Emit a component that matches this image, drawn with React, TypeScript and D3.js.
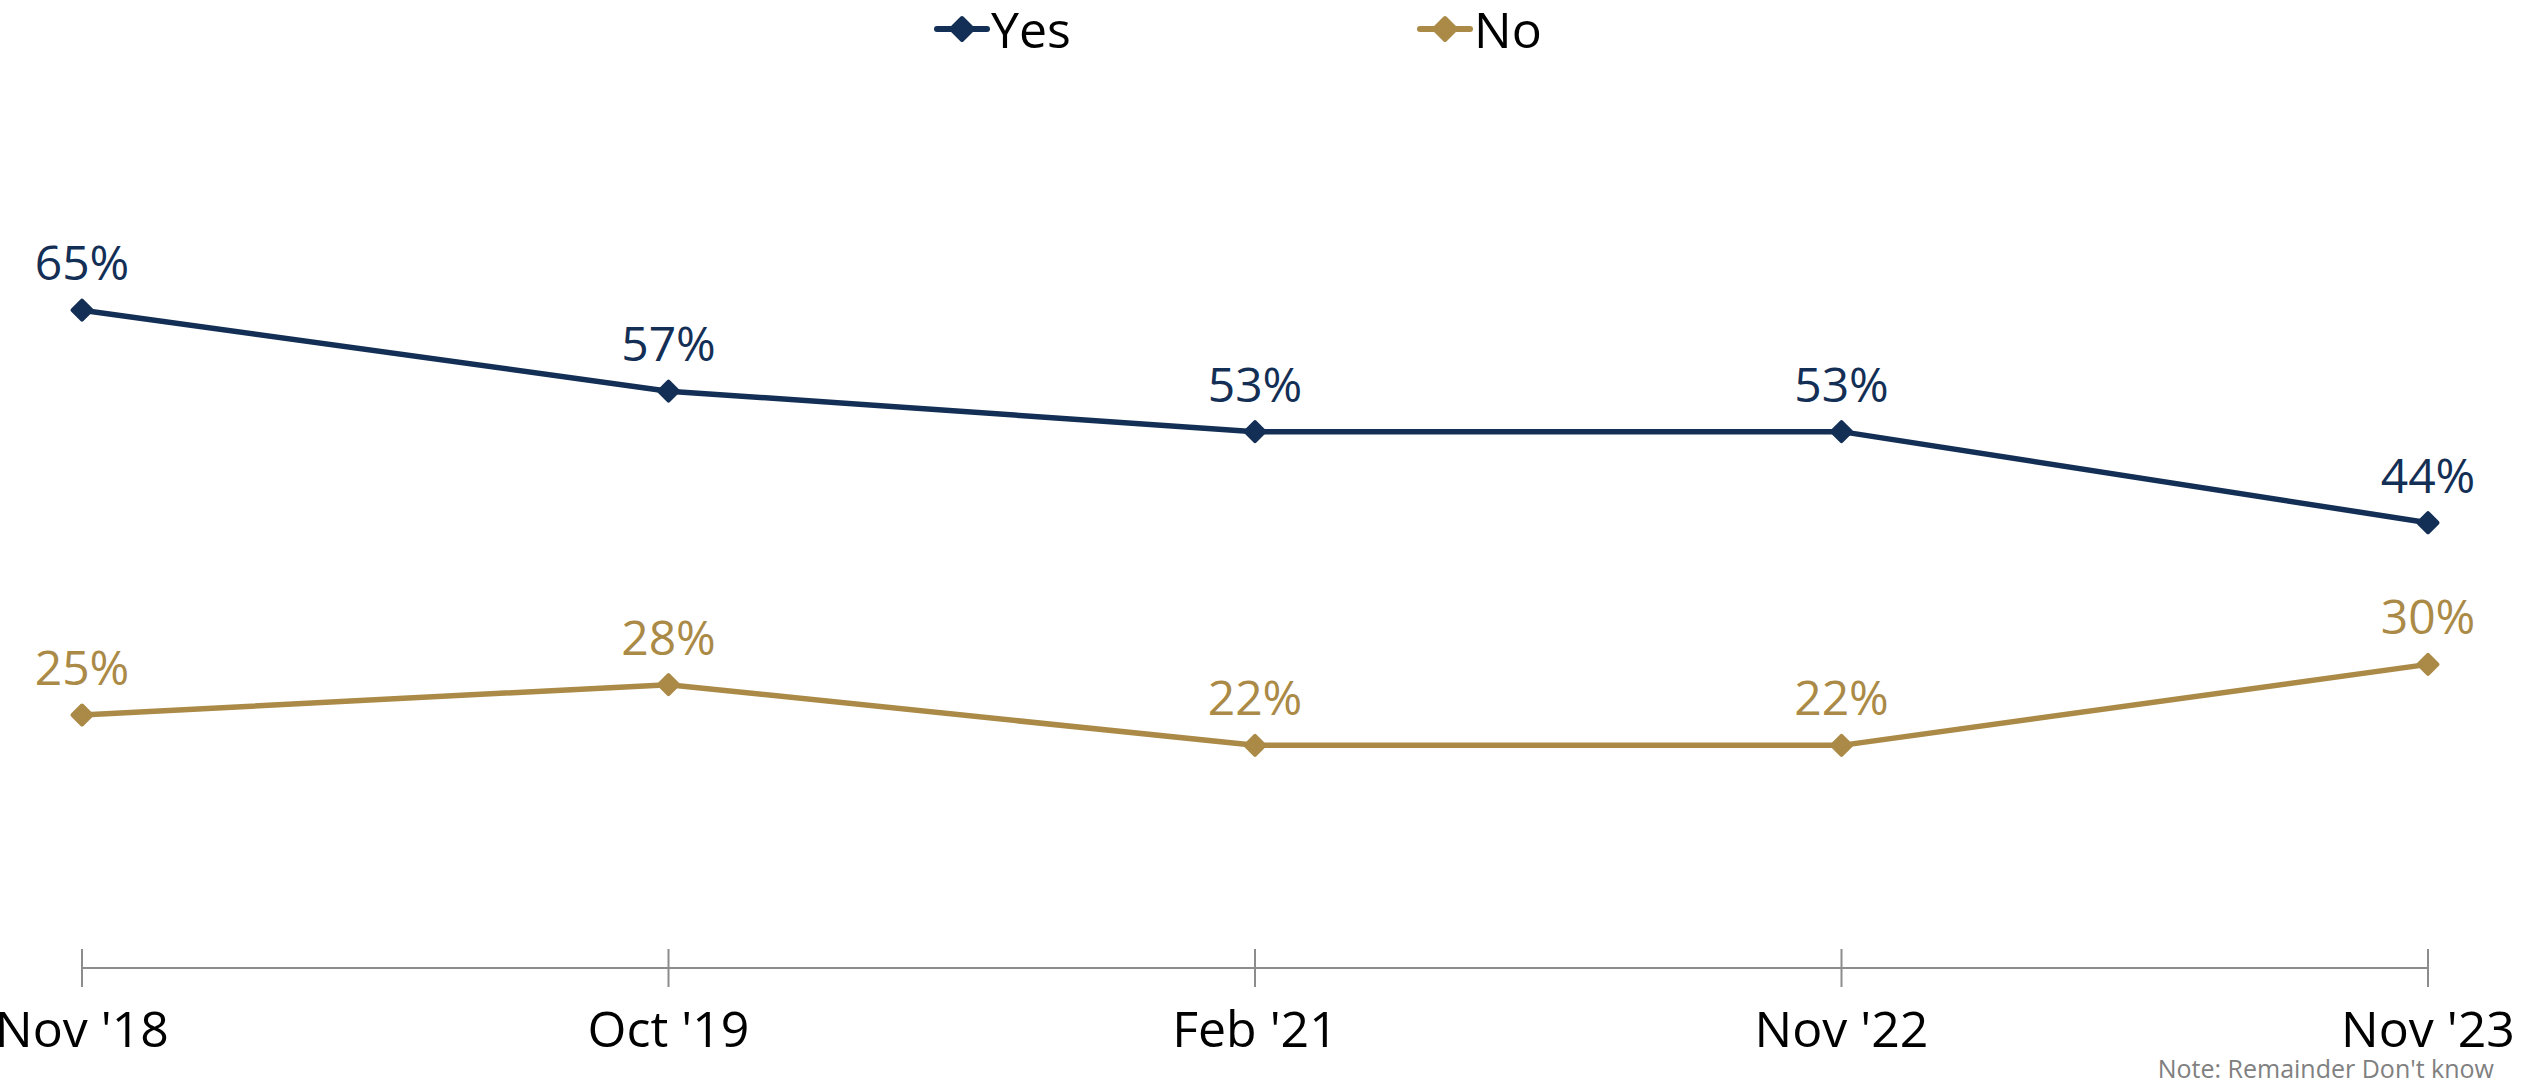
import React from 'react';
import * as d3 from 'd3';

const periods = ["Nov '18", "Oct '19", "Feb '21", "Nov '22", "Nov '23"];
const yesValues = [65, 57, 53, 53, 44];
const noValues = [25, 28, 22, 22, 30];

const seriesNames = ['Yes', 'No'];
const seriesColors = ['#142f55', '#aa8a46'];

const W = 2524;
const H = 1085;
const FONT = '"Open Sans", "Noto Sans", sans-serif';

const App: React.FC = () => {
  const x = d3.scalePoint<string>().domain(periods).range([82, 2428]);
  const y = d3.scaleLinear().domain([0, 100]).range([968, -44]);

  const line = d3
    .line<number>()
    .x((_, i) => x(periods[i]) as number)
    .y(d => y(d));

  const diamond = (cx: number, cy: number, r: number) =>
    `M${cx},${cy - r}L${cx + r},${cy}L${cx},${cy + r}L${cx - r},${cy}Z`;

  const allSeries = [yesValues, noValues];
  const legendX = [937, 1420];

  return (
    <svg
      width={W}
      height={H}
      style={{ display: 'block', position: 'absolute', left: 0, top: 0, background: '#fff' }}
    >
      {/* legend */}
      {seriesNames.map((name, i) => {
        const lx = legendX[i];
        const ly = 29;
        return (
          <g key={name}>
            <line x1={lx} x2={lx + 50} y1={ly} y2={ly} stroke={seriesColors[i]} strokeWidth={6} strokeLinecap="round" />
            <path d={diamond(lx + 25, ly, 11)} fill={seriesColors[i]} stroke={seriesColors[i]} strokeWidth={4} strokeLinejoin="round" />
            <text x={lx + 54} y={48} fontFamily={FONT} fontSize={50} fill="#000">
              {name}
            </text>
          </g>
        );
      })}

      {/* x axis */}
      <line x1={x(periods[0])} x2={x(periods[periods.length - 1])} y1={y(0)} y2={y(0)} stroke="#8c8c8c" strokeWidth={2} />
      {periods.map(p => (
        <g key={p}>
          <line x1={x(p)} x2={x(p)} y1={y(0) - 19} y2={y(0) + 19} stroke="#8c8c8c" strokeWidth={2} />
          <text x={x(p)} y={1047} textAnchor="middle" fontFamily={FONT} fontSize={50} fill="#000">
            {p}
          </text>
        </g>
      ))}

      {/* series */}
      {allSeries.map((vals, si) => (
        <g key={si}>
          <path d={line(vals) || ''} fill="none" stroke={seriesColors[si]} strokeWidth={5.5} strokeLinejoin="round" />
          {vals.map((v, i) => {
            const cx = x(periods[i]) as number;
            const cy = y(v);
            return (
              <g key={i}>
                <path d={diamond(cx, cy, 9.5)} fill={seriesColors[si]} stroke={seriesColors[si]} strokeWidth={4} strokeLinejoin="round" />
                <text x={cx} y={cy - 30} textAnchor="middle" fontFamily={FONT} fontSize={48} fill={seriesColors[si]}>
                  {v}%
                </text>
              </g>
            );
          })}
        </g>
      ))}

      <text x={2494} y={1078} textAnchor="end" fontFamily={FONT} fontSize={25} fill="#808080">
        Note: Remainder Don't know
      </text>
    </svg>
  );
};

export default App;
